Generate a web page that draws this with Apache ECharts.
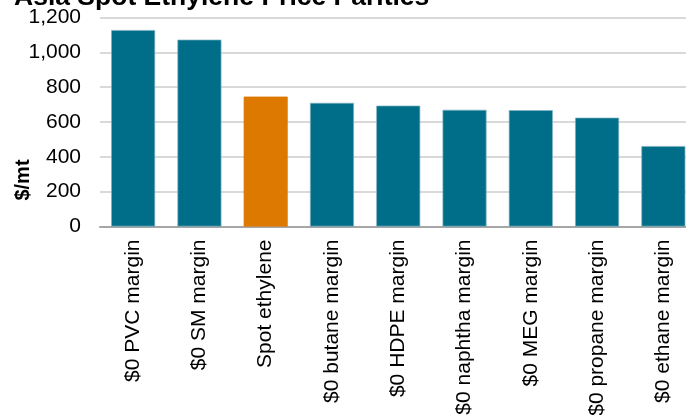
<!DOCTYPE html>
<html>
<head>
<meta charset="utf-8">
<script src="https://cdn.jsdelivr.net/npm/echarts@6/dist/echarts.min.js"></script>
<style>
html,body{margin:0;padding:0;background:#fff;}
#c{width:686px;height:415px;}
</style>
</head>
<body>
<div id="c"></div>
<script>
var categories = ['$0 PVC margin','$0 SM margin','Spot ethylene','$0 butane margin','$0 HDPE margin','$0 naphtha margin','$0 MEG margin','$0 propane margin','$0 ethane margin'];
var values = [1128, 1073, 746, 710, 694, 670, 668, 625, 462];
var highlightCategory = 'Spot ethylene';
var yTicks = [0, 200, 400, 600, 800, 1000, 1200];
var yAxisTitle = '$/mt';

var teal = '#006e88';
var orange = '#dd7800';
var font = 'Arial, "Liberation Sans", sans-serif';

var chart = echarts.init(document.getElementById('c'), null, {renderer:'canvas'});
chart.setOption({
  animation: false,
  backgroundColor: '#ffffff',
  title: {
    text: 'Asia Spot Ethylene Price Parities',
    left: 9,
    top: -21,
    textStyle: {fontFamily: font, fontSize: 26.5, fontWeight: 'bold', color: '#000'}
  },
  graphic: [{
    type: 'text',
    x: 23,
    y: 180,
    rotation: Math.PI / 2,
    style: {
      text: yAxisTitle,
      font: 'bold 20px ' + font,
      fill: '#000',
      align: 'center',
      verticalAlign: 'middle'
    }
  }],
  grid: {left: 100, right: -10.5, top: 17.5, bottom: 188.5, containLabel: false, outerBoundsMode: 'none'},
  xAxis: {
    type: 'category',
    data: categories,
    axisLine: {show: true, lineStyle: {color: '#a6a6a6', width: 2}},
    axisTick: {show: false},
    axisLabel: {
      rotate: 90,
      interval: 0,
      margin: 13,
      fontFamily: font,
      fontSize: 21,
      color: '#000'
    }
  },
  yAxis: {
    type: 'value',
    min: yTicks[0],
    max: yTicks[yTicks.length - 1],
    interval: 200,
    axisLine: {show: false},
    axisTick: {show: false},
    splitLine: {show: true, lineStyle: {color: '#d9d9d9', width: 2}},
    axisLabel: {
      margin: 19,
      fontFamily: font,
      fontSize: 21,
      color: '#000',
      formatter: function (v) { return v.toLocaleString('en-US'); }
    }
  },
  series: [{
    type: 'bar',
    barWidth: 44,
    data: values.map(function (v, i) {
      return {
        value: v,
        itemStyle: {
          color: categories[i] === highlightCategory ? orange : teal,
          borderColor: categories[i] === highlightCategory ? orange : '#7fb3c2',
          borderWidth: 0.7
        }
      };
    })
  }]
});
</script>
</body>
</html>
